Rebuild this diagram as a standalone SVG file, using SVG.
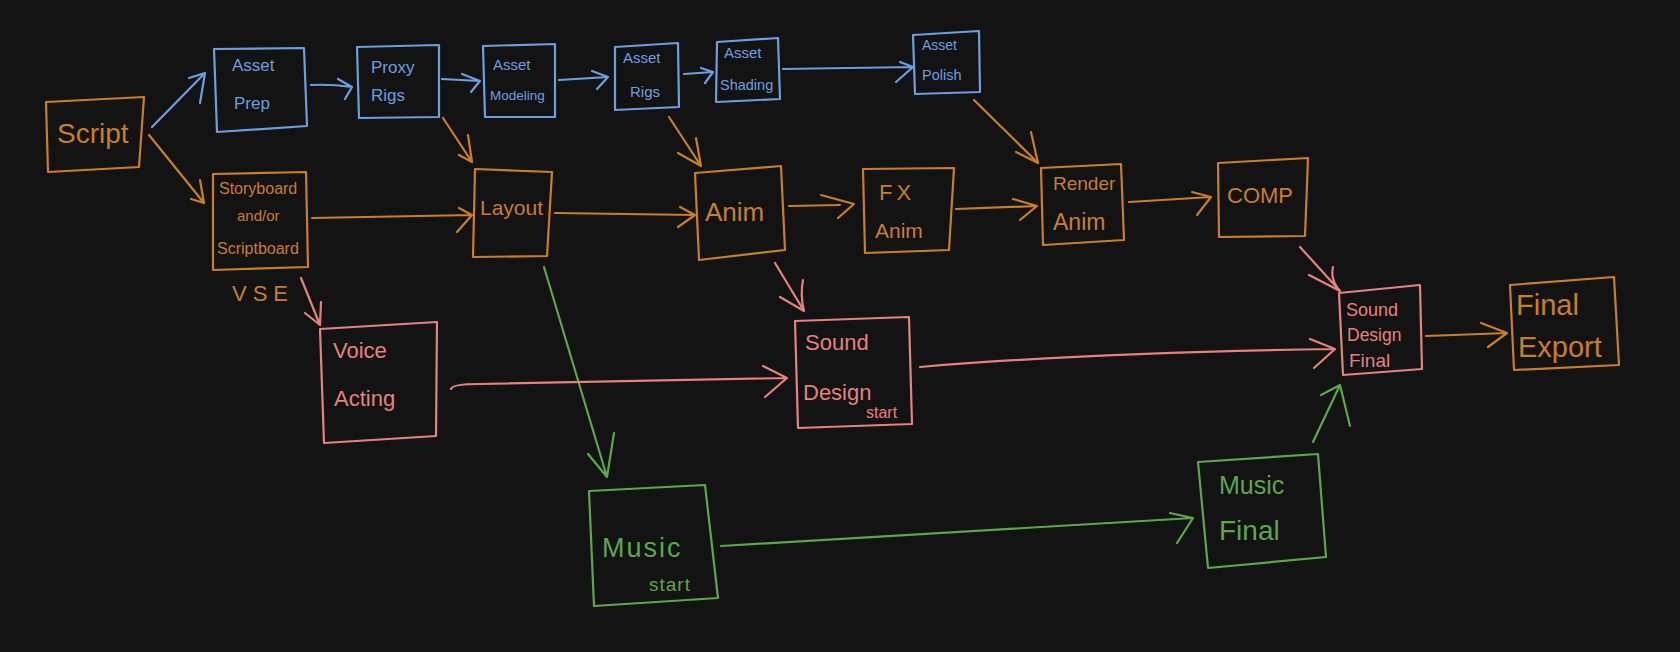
<svg xmlns="http://www.w3.org/2000/svg" width="1680" height="652" viewBox="0 0 1680 652">
<style>
.bg{fill:#131313}
.b{fill:none;stroke-width:2.2;stroke-linecap:round;stroke-linejoin:round}
.o{stroke:#c97e2c}.bl{stroke:#6c9fe0}.p{stroke:#e5827e}.g{stroke:#5da64d}
text{font-family:"Liberation Sans","DejaVu Sans",sans-serif}
.to{fill:#c97e2c}.tb{fill:#6c9fe0}.tp{fill:#e5827e}.tg{fill:#5da64d}
</style>
<rect class="bg" x="0" y="0" width="1680" height="652"/>
<g id="connectors" class="b">
<path class="bl" d="M152,127 L205,73 M189,78 L205,73 L200,103"/>
<path class="o" d="M149,135 L204,203 M191,199 L204,203 L200,180"/>
<path class="bl" d="M311,85 Q330,84 352,87 M338,79 L352,87 L345,99"/>
<path class="bl" d="M442,79 L480,81 M462,74 L480,81 L471,92"/>
<path class="o" d="M443,118 L472,162 M459,155 L472,162 L468,135"/>
<path class="o" d="M312,218 L472,215 M459,208 L472,215 L457,232"/>
<path class="p" d="M301,278 L320,325 M305,313 L320,325 L321,302"/>
<path class="bl" d="M559,80 L608,77 M592,71 L608,77 L597,89"/>
<path class="bl" d="M684,74 L713,72 M701,68 L713,72 L705,83"/>
<path class="bl" d="M783,69 L913,67 M900,62 L913,67 L896,82"/>
<path class="o" d="M669,117 L701,166 M678,153 L701,166 L696,138"/>
<path class="o" d="M974,100 L1038,163 M1016,152 L1038,163 L1031,132"/>
<path class="o" d="M555,213 L695,215 M680,207 L695,215 L678,227"/>
<path class="o" d="M789,206 L840,205 M821,195 L854,204 L838,218"/>
<path class="o" d="M956,209 L1037,206 M1013,199 L1037,206 L1020,220"/>
<path class="p" d="M775,263 L804,311 M780,297 L804,311 Q800,295 803,280"/>
<path class="g" d="M544,267 L607,477 M588,454 L607,477 L614,433"/>
<path class="o" d="M1129,202 L1211,197 M1192,192 L1211,197 L1197,215"/>
<path class="p" d="M1300,247 L1340,291 M1309,275 L1340,291 Q1330,280 1333,267"/>
<path class="o" d="M1426,336 L1507,333 M1481,323 L1507,333 L1488,347"/>
<path class="p" d="M451,389 Q452,384 480,384 L787,378 M763,366 L787,378 L765,397"/>
<path class="p" d="M920,367 Q1100,352 1335,349 M1310,339 L1335,349 L1314,368"/>
<path class="g" d="M721,546 L1193,518 M1170,513 L1193,518 L1177,543"/>
<path class="g" d="M1313,442 L1340,385 M1321,395 L1340,385 L1350,426"/>
</g>
<g id="script"><path class="b o" d="M46,102 L144,97 L139,167 L48,172 Z"/><text class="to" x="57" y="143" font-size="28">Script</text></g>
<g id="asset-prep"><path class="b bl" d="M214,49 L304,48 L307,126 L217,132 Z"/><text class="tb" x="232" y="71" font-size="17">Asset</text><text class="tb" x="234" y="109" font-size="17">Prep</text></g>
<g id="proxy-rigs"><path class="b bl" d="M357,47 L439,45 L439,117 L359,118 Z"/><text class="tb" x="371" y="73" font-size="17">Proxy</text><text class="tb" x="371" y="101" font-size="17">Rigs</text></g>
<g id="asset-modeling"><path class="b bl" d="M483,46 L555,44 L555,117 L485,117 Z"/><text class="tb" x="493" y="70" font-size="15">Asset</text><text class="tb" x="490" y="100" font-size="13.5">Modeling</text></g>
<g id="asset-rigs"><path class="b bl" d="M615,47 L678,43 L679,107 L615,110 Z"/><text class="tb" x="623" y="63" font-size="15">Asset</text><text class="tb" x="630" y="97" font-size="15">Rigs</text></g>
<g id="asset-shading"><path class="b bl" d="M717,42 L778,38 L780,99 L716,102 Z"/><text class="tb" x="724" y="58" font-size="15">Asset</text><text class="tb" x="720" y="90" font-size="14.5">Shading</text></g>
<g id="asset-polish"><path class="b bl" d="M913,35 L979,31 L980,92 L915,94 Z"/><text class="tb" x="922" y="50" font-size="14">Asset</text><text class="tb" x="922" y="80" font-size="14.5">Polish</text></g>
<g id="storyboard"><path class="b o" d="M213,174 L306,172 L308,267 L213,270 Z"/><text class="to" x="219" y="194" font-size="16">Storyboard</text><text class="to" x="237" y="221" font-size="15">and/or</text><text class="to" x="217" y="254" font-size="16">Scriptboard</text></g>
<g id="vse"><text class="to" x="232" y="301" font-size="22" letter-spacing="6">VSE</text></g>
<g id="layout"><path class="b o" d="M475,169 L552,172 L547,256 L473,257 Z"/><text class="to" x="480" y="215" font-size="21">Layout</text></g>
<g id="anim"><path class="b o" d="M695,173 L781,166 L785,250 L699,260 Z"/><text class="to" x="705" y="221" font-size="26">Anim</text></g>
<g id="fx-anim"><path class="b o" d="M863,169 L954,168 L949,250 L865,253 Z"/><text class="to" x="879" y="200" font-size="22" letter-spacing="4">FX</text><text class="to" x="875" y="238" font-size="21">Anim</text></g>
<g id="render-anim"><path class="b o" d="M1041,168 L1121,164 L1124,240 L1043,245 Z"/><text class="to" x="1053" y="190" font-size="19">Render</text><text class="to" x="1053" y="230" font-size="23">Anim</text></g>
<g id="comp"><path class="b o" d="M1218,163 L1308,158 L1305,236 L1219,237 Z"/><text class="to" x="1227" y="203" font-size="22">COMP</text></g>
<g id="sound-design-final"><path class="b p" d="M1339,293 L1420,285 L1422,369 L1343,375 Z"/><text class="tp" x="1346" y="316" font-size="18">Sound</text><text class="tp" x="1347" y="341" font-size="17.5">Design</text><text class="tp" x="1349" y="367" font-size="19">Final</text></g>
<g id="final-export"><path class="b o" d="M1510,285 L1614,277 L1619,365 L1514,370 Z"/><text class="to" x="1516" y="315" font-size="29">Final</text><text class="to" x="1518" y="357" font-size="29">Export</text></g>
<g id="voice-acting"><path class="b p" d="M320,329 L437,322 L436,436 L324,443 Z"/><text class="tp" x="333" y="358" font-size="22">Voice</text><text class="tp" x="334" y="406" font-size="22">Acting</text></g>
<g id="sound-design-start"><path class="b p" d="M795,321 L909,317 L912,424 L798,428 Z"/><text class="tp" x="805" y="350" font-size="22">Sound</text><text class="tp" x="803" y="400" font-size="22">Design</text><text class="tp" x="866" y="418" font-size="16">start</text></g>
<g id="music-start"><path class="b g" d="M589,491 L705,485 L718,598 L594,606 Z"/><text class="tg" x="602" y="557" font-size="27" letter-spacing="2">Music</text><text class="tg" x="649" y="591" font-size="19" letter-spacing="1">start</text></g>
<g id="music-final"><path class="b g" d="M1198,462 L1318,454 L1326,557 L1208,568 Z"/><text class="tg" x="1219" y="494" font-size="25">Music</text><text class="tg" x="1219" y="540" font-size="28">Final</text></g>
</svg>
